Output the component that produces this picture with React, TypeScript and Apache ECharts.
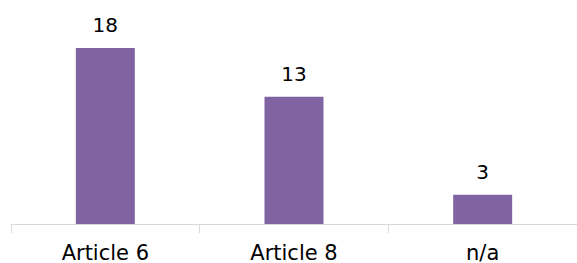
import React, { useEffect, useRef } from "react";
import * as echarts from "echarts";

const categories = ["Article 6", "Article 8", "n/a"];
const values = [18, 13, 3];

export default function App() {
  const ref = useRef<HTMLDivElement>(null);
  useEffect(() => {
    const chart = echarts.init(ref.current!, null, { renderer: "svg" });
    chart.setOption({
      animation: false,
      grid: { left: 11, right: -1, top: 28.4, bottom: 39 },
      xAxis: {
        type: "category",
        data: categories,
        axisLine: { lineStyle: { color: "#d9d9d9", width: 1 } },
        axisTick: { show: true, length: 9, lineStyle: { color: "#d9d9d9" } },
        axisLabel: {
          color: "#000",
          fontFamily: "DejaVu Sans",
          fontSize: 21,
          margin: 18,
        },
      },
      yAxis: { type: "value", min: 0, max: 20, show: false },
      series: [
        {
          type: "bar",
          data: values,
          barWidth: 59,
          itemStyle: { color: "#8064A2" },
          label: {
            show: true,
            position: "top",
            distance: 13,
            color: "#000",
            fontFamily: "DejaVu Sans",
            fontSize: 20,
          },
        },
      ],
    });
    return () => chart.dispose();
  }, []);
  return (
    <div
      ref={ref}
      style={{ width: 577, height: 263, position: "absolute", left: 0, top: 0 }}
    />
  );
}
